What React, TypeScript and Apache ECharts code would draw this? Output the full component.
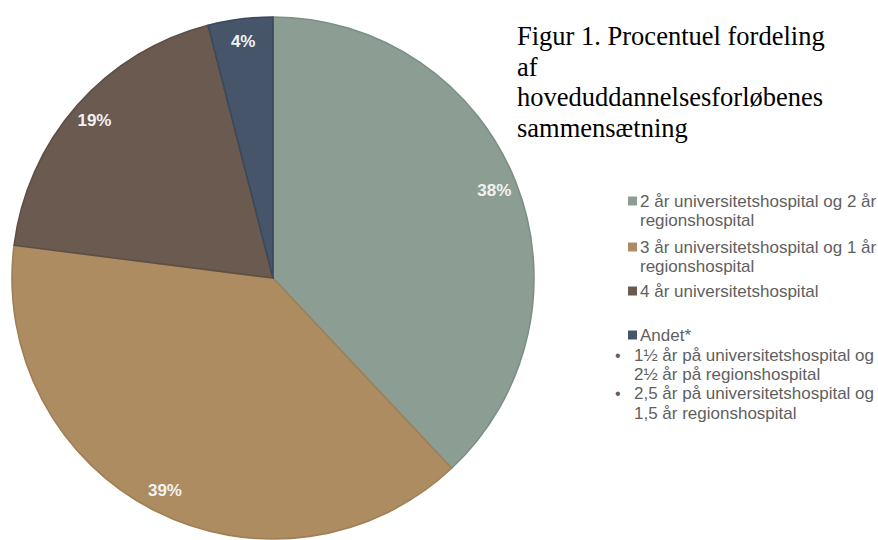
import React, { useEffect, useRef } from "react";
import * as echarts from "echarts";

const categories = [
  "2 år universitetshospital og 2 år regionshospital",
  "3 år universitetshospital og 1 år regionshospital",
  "4 år universitetshospital",
  "Andet*",
];
const values = [38, 39, 19, 4];
const legendLines = [
  ["2 år universitetshospital og 2 år", "regionshospital"],
  ["3 år universitetshospital og 1 år", "regionshospital"],
  ["4 år universitetshospital"],
  ["Andet*"],
];
const andetNotes = [
  ["1½ år på universitetshospital og", "2½ år på regionshospital"],
  ["2,5 år på universitetshospital og", "1,5 år regionshospital"],
];
const titleLines = [
  "Figur 1. Procentuel fordeling",
  "af",
  "hoveduddannelsesforløbenes",
  "sammensætning",
];

const fills = ["#8c9e94", "#ae8c62", "#6b5a50", "#465569"];
const borders = ["#7b8f86", "#9f7f55", "#5e4e45", "#3b495b"];

export default function App() {
  const ref = useRef<HTMLDivElement>(null);
  useEffect(() => {
    if (!ref.current) return;
    const chart = echarts.init(ref.current, null, { renderer: "svg" });

    const graphics: any[] = [];
    titleLines.forEach((t, i) => {
      graphics.push({
        type: "text",
        x: 517,
        y: 36 + i * 30.5,
        style: {
          text: t,
          font: "26.5px 'Liberation Serif', 'Times New Roman', serif",
          fill: "#000000",
          verticalAlign: "middle",
          align: "left",
        },
      });
    });
    const legendFont = "17px 'Liberation Sans', Arial, sans-serif";
    const legendColor = "#5f5f5f";
    const lineH = 19.2;
    const itemStarts = [201, 247, 291, 335];
    categories.forEach((_, i) => {
      const y0 = itemStarts[i];
      graphics.push({
        type: "rect",
        shape: { x: 628, y: y0 - 4.5, width: 9, height: 9 },
        style: { fill: fills[i] },
      });
      legendLines[i].forEach((ln, j) => {
        graphics.push({
          type: "text",
          x: 640,
          y: y0 + j * lineH,
          style: { text: ln, font: legendFont, fill: legendColor, verticalAlign: "middle" },
        });
      });
    });
    let ny = 355;
    andetNotes.forEach((note) => {
      graphics.push({
        type: "text",
        x: 615,
        y: ny,
        style: { text: "•", font: "16px 'Liberation Sans', Arial, sans-serif", fill: legendColor, verticalAlign: "middle" },
      });
      note.forEach((ln, j) => {
        graphics.push({
          type: "text",
          x: 634,
          y: ny + j * lineH,
          style: { text: ln, font: legendFont, fill: legendColor, verticalAlign: "middle" },
        });
      });
      ny += note.length * lineH + 0.5;
    });

    const data = categories.map((name, i) => ({
      name,
      value: values[i],
      itemStyle: { color: fills[i], borderColor: borders[i], borderWidth: 1.6 },
    }));
    const labelData = categories.map((name, i) => ({ name, value: values[i] }));

    chart.setOption({
      animation: false,
      backgroundColor: "#ffffff",
      series: [
        {
          type: "pie",
          center: [273, 278],
          radius: 261,
          startAngle: 90,
          clockwise: true,
          label: { show: false },
          labelLine: { show: false },
          silent: true,
          data,
        },
        {
          type: "pie",
          center: [273, 278],
          radius: [209, 261],
          startAngle: 90,
          clockwise: true,
          silent: true,
          itemStyle: { color: "rgba(0,0,0,0)", borderWidth: 0 },
          labelLine: { show: false },
          label: {
            show: true,
            position: "inside",
            formatter: "{c}%",
            color: "#f2f2f2",
            fontWeight: "bold",
            fontSize: 17,
            fontFamily: "'Liberation Sans', Arial, sans-serif",
          },
          data: labelData,
        },
      ],
      graphic: graphics,
    });
    return () => chart.dispose();
  }, []);
  return (
    <div
      ref={ref}
      style={{ position: "absolute", left: 0, top: 0, width: 878, height: 540 }}
    />
  );
}
